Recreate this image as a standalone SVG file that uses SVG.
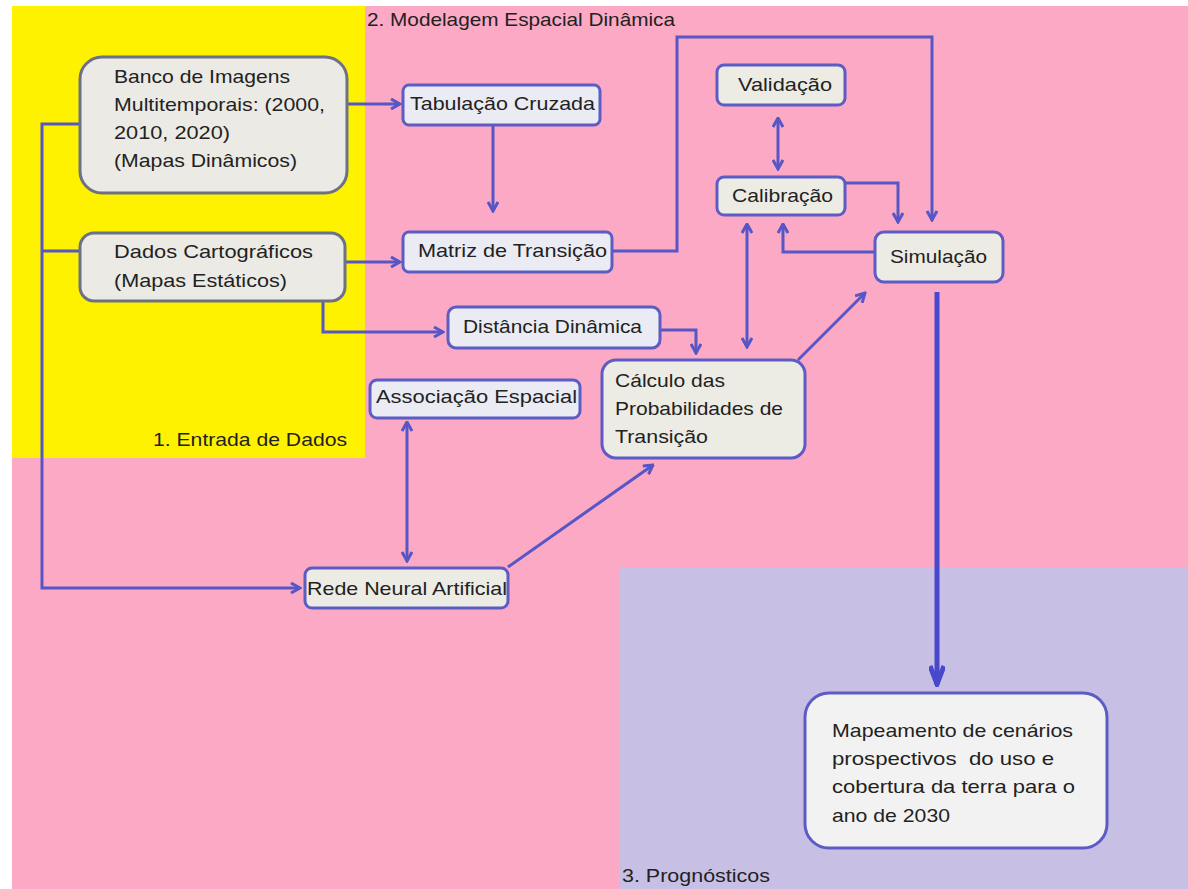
<svg xmlns="http://www.w3.org/2000/svg" width="1188" height="889" viewBox="0 0 1188 889">
  <style>
    text { font-family: "Liberation Sans", Arial, sans-serif; font-size: 18.5px; fill: #222; }
    .input { fill: #ebeae4; stroke: #6d7186; stroke-width: 3; }
    .step { fill: #ebebf3; stroke: #5d5cc4; stroke-width: 3; }
    .calc { fill: #edece4; stroke: #5d5cc4; stroke-width: 3; }
    .out { fill: #f2f2f2; stroke: #5d5cc4; stroke-width: 3; }
    .link { fill: none; stroke: #5656c6; stroke-width: 3; }
    .thick { fill: none; stroke: #4848cc; stroke-width: 5; }
  </style>
  <defs>
    <marker id="arrow" viewBox="0 0 12 12" refX="10.5" refY="6" markerWidth="12" markerHeight="12" markerUnits="userSpaceOnUse" orient="auto-start-reverse">
      <path d="M1.5,1 L10.5,6 L1.5,11" fill="none" stroke="#5656c6" stroke-width="3"/>
    </marker>
    <marker id="arrowBig" viewBox="0 0 24 16" refX="22" refY="8" markerWidth="24" markerHeight="16" markerUnits="userSpaceOnUse" orient="auto">
      <path d="M3,1 L21,8 L3,15" fill="none" stroke="#4848cc" stroke-width="5"/>
    </marker>
  </defs>

  <!-- background zones -->
  <g id="zones">
    <rect x="0" y="0" width="1188" height="889" fill="#ffffff"/>
    <rect x="12" y="6" width="1176" height="883" fill="#fca9c5"/>
    <rect x="12" y="6" width="353" height="452" fill="#fff200"/>
    <rect x="619" y="567" width="569" height="322" fill="#c8bfe5"/>
    <text x="153" y="446" textLength="194" lengthAdjust="spacingAndGlyphs">1. Entrada de Dados</text>
    <text x="367" y="26" textLength="308" lengthAdjust="spacingAndGlyphs">2. Modelagem Espacial Dinâmica</text>
    <text x="622" y="882" textLength="148" lengthAdjust="spacingAndGlyphs">3. Prognósticos</text>
  </g>

  <!-- connectors -->
  <g id="connectors">
    <path class="link" d="M80,124 H42 V588 H300" marker-end="url(#arrow)"/>
    <path class="link" d="M80,251 H42"/>
    <path class="link" d="M347,104 H400" marker-end="url(#arrow)"/>
    <path class="link" d="M345,262 H400" marker-end="url(#arrow)"/>
    <path class="link" d="M493,125 V211" marker-end="url(#arrow)"/>
    <path class="link" d="M612,251 H677 V37 H932 V220" marker-end="url(#arrow)"/>
    <path class="link" d="M323,301 V332 H443" marker-end="url(#arrow)"/>
    <path class="link" d="M660,330 H696 V353" marker-end="url(#arrow)"/>
    <path class="link" d="M778,118 V169" marker-start="url(#arrow)" marker-end="url(#arrow)"/>
    <path class="link" d="M845,183 H898 V222" marker-end="url(#arrow)"/>
    <path class="link" d="M875,252 H783 V224" marker-end="url(#arrow)"/>
    <path class="link" d="M747,224 V347" marker-start="url(#arrow)" marker-end="url(#arrow)"/>
    <path class="link" d="M798,360 L865,293" marker-end="url(#arrow)"/>
    <path class="link" d="M407,422 V561" marker-start="url(#arrow)" marker-end="url(#arrow)"/>
    <path class="link" d="M508,567 L653,465" marker-end="url(#arrow)"/>
    <path class="thick" d="M937,292 V685" marker-end="url(#arrowBig)"/>
  </g>

  <g id="banco-imagens">
    <rect class="input" x="80" y="57" width="267" height="136" rx="22"/>
    <text x="114" y="83" textLength="176" lengthAdjust="spacingAndGlyphs">Banco de Imagens</text>
    <text x="114" y="111" textLength="211" lengthAdjust="spacingAndGlyphs">Multitemporais: (2000,</text>
    <text x="114" y="139" textLength="116" lengthAdjust="spacingAndGlyphs">2010, 2020)</text>
    <text x="114" y="167" textLength="183" lengthAdjust="spacingAndGlyphs">(Mapas Dinâmicos)</text>
  </g>

  <g id="dados-cartograficos">
    <rect class="input" x="80" y="233" width="265" height="68" rx="14"/>
    <text x="114" y="258" textLength="199" lengthAdjust="spacingAndGlyphs">Dados Cartográficos</text>
    <text x="114" y="287" textLength="173" lengthAdjust="spacingAndGlyphs">(Mapas Estáticos)</text>
  </g>

  <g id="tabulacao-cruzada">
    <rect class="step" x="403" y="85" width="197" height="40" rx="6"/>
    <text x="410" y="110" textLength="185" lengthAdjust="spacingAndGlyphs">Tabulação Cruzada</text>
  </g>

  <g id="matriz-transicao">
    <rect class="step" x="403" y="232" width="209" height="40" rx="6"/>
    <text x="418" y="257" textLength="189" lengthAdjust="spacingAndGlyphs">Matriz de Transição</text>
  </g>

  <g id="validacao">
    <rect class="calc" x="717" y="65" width="128" height="40" rx="7"/>
    <text x="738" y="91" textLength="94" lengthAdjust="spacingAndGlyphs">Validação</text>
  </g>

  <g id="calibracao">
    <rect class="calc" x="717" y="177" width="128" height="38" rx="7"/>
    <text x="732" y="202" textLength="101" lengthAdjust="spacingAndGlyphs">Calibração</text>
  </g>

  <g id="simulacao">
    <rect class="calc" x="875" y="232" width="128" height="50" rx="9"/>
    <text x="890" y="263" textLength="97" lengthAdjust="spacingAndGlyphs">Simulação</text>
  </g>

  <g id="distancia-dinamica">
    <rect class="step" x="448" y="307" width="212" height="41" rx="8"/>
    <text x="463" y="333" textLength="179" lengthAdjust="spacingAndGlyphs">Distância Dinâmica</text>
  </g>

  <g id="associacao-espacial">
    <rect class="step" x="370" y="380" width="210" height="38" rx="7"/>
    <text x="376" y="403" textLength="201" lengthAdjust="spacingAndGlyphs">Associação Espacial</text>
  </g>

  <g id="rede-neural">
    <rect class="calc" x="305" y="568" width="203" height="40" rx="7"/>
    <text x="307" y="595" textLength="200" lengthAdjust="spacingAndGlyphs">Rede Neural Artificial</text>
  </g>

  <g id="calculo-probabilidades">
    <rect class="calc" x="602" y="360" width="203" height="98" rx="14"/>
    <text x="615" y="387" textLength="110" lengthAdjust="spacingAndGlyphs">Cálculo das</text>
    <text x="615" y="415" textLength="168" lengthAdjust="spacingAndGlyphs">Probabilidades de</text>
    <text x="615" y="443" textLength="93" lengthAdjust="spacingAndGlyphs">Transição</text>
  </g>

  <g id="mapeamento-cenarios">
    <rect class="out" x="805" y="693" width="302" height="155" rx="24"/>
    <text x="832" y="737" textLength="241" lengthAdjust="spacingAndGlyphs">Mapeamento de cenários</text>
    <text x="832" y="765" textLength="222" lengthAdjust="spacingAndGlyphs" xml:space="preserve">prospectivos  do uso e</text>
    <text x="832" y="793" textLength="243" lengthAdjust="spacingAndGlyphs">cobertura da terra para o</text>
    <text x="832" y="822" textLength="118" lengthAdjust="spacingAndGlyphs">ano de 2030</text>
  </g>
</svg>
